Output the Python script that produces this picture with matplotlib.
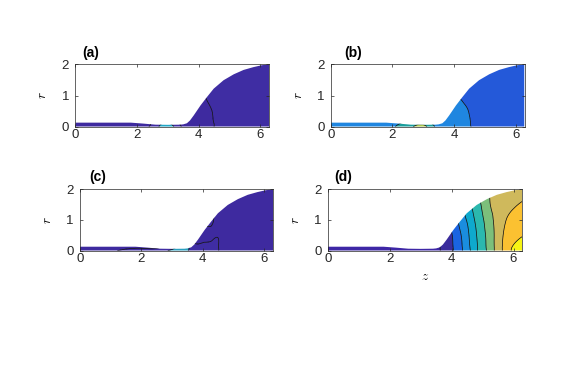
import numpy as np
import matplotlib
matplotlib.use('Agg')
import matplotlib.pyplot as plt
import matplotlib.tri as mtri
from matplotlib.patches import Polygon

plt.rcParams['font.family'] = ['Liberation Sans', 'DejaVu Sans']
plt.rcParams['mathtext.fontset'] = 'cm'

# grid of the field samples (z along the axis, r radial)
Z_NODES = [0, 1.0, 1.5, 2.0, 2.5, 3.0, 3.5, 3.75, 4.0, 4.25, 4.5, 4.75, 5.0, 5.25, 5.5, 5.75, 6.0, 6.2832]
R_NODES = [0, 0.1, 0.5, 1.0, 1.5, 2.0]

# outer wall r = R(z)
PROF_Z = [0, 1.8, 2.2, 2.6, 3.0, 3.4, 3.5, 3.62, 3.72, 3.84, 4.06, 4.27, 4.49, 4.81, 5.14, 5.46, 5.78, 6.05, 6.2832]
PROF_R = [0.13, 0.13, 0.10, 0.065, 0.06, 0.065, 0.075, 0.11, 0.2, 0.36, 0.68, 0.95, 1.22, 1.49, 1.68, 1.82, 1.91, 1.97, 2.0]

# one row per R_NODES entry
FIELD_A = [
    [0, 0, 0, 0, 0.8, 2.0, 0.3, 0, 0.1, 0.3, 0.5, 0.7, 0.85, 1, 1, 1, 1, 1],
    [0, 0, 0, 0, 0.6, 1.6, 0.2, 0, 0.1, 0.3, 0.5, 0.7, 0.85, 1, 1, 1, 1, 1],
    [0, 0, 0, 0, 0, 0, 0, 0.05, 0.15, 0.35, 0.55, 0.75, 0.9, 1, 1, 1, 1, 1],
    [0, 0, 0, 0, 0, 0, 0, 0.1, 0.3, 0.55, 0.75, 0.9, 1, 1, 1, 1, 1, 1],
    [0, 0, 0, 0, 0, 0, 0.1, 0.3, 0.5, 0.7, 0.85, 1, 1, 1, 1, 1, 1, 1],
    [0, 0, 0, 0, 0, 0, 0.2, 0.4, 0.6, 0.8, 0.9, 1, 1, 1, 1, 1, 1, 1],
]
FIELD_B = [
    [1.5, 1.5, 1.5, 1.9, 2.6, 3.3, 1.6, 1.5, 1.5, 1.3, 1.05, 0.8, 0.6, 0.5, 0.5, 0.5, 0.5, 0.5],
    [1.5, 1.5, 1.5, 1.8, 2.3, 2.8, 1.5, 1.5, 1.5, 1.3, 1.03, 0.8, 0.6, 0.5, 0.5, 0.5, 0.5, 0.5],
    [1.5, 1.5, 1.5, 1.5, 1.5, 1.5, 1.5, 1.5, 1.5, 1.3, 0.95, 0.7, 0.55, 0.5, 0.5, 0.5, 0.5, 0.5],
    [1.5, 1.5, 1.5, 1.5, 1.5, 1.5, 1.5, 1.4, 1.15, 0.85, 0.6, 0.5, 0.5, 0.5, 0.5, 0.5, 0.5, 0.5],
    [1.5, 1.5, 1.5, 1.5, 1.5, 1.5, 1.5, 1.2, 0.9, 0.6, 0.5, 0.5, 0.5, 0.5, 0.5, 0.5, 0.5, 0.5],
    [1.5, 1.5, 1.5, 1.5, 1.5, 1.5, 1.4, 1.0, 0.7, 0.5, 0.5, 0.5, 0.5, 0.5, 0.5, 0.5, 0.5, 0.5],
]
FIELD_C = [
    [0, 0.3, 0.8, 1.0, 1.0, 1.8, 1.6, 0.7, 1.0, 1.0, 0.55, 0, 0, 0, 0, 0, 0, 0],
    [0, 0, 0.3, 0.4, 0.4, 1.2, 1.6, 0.8, 0.9, 0.9, 0.55, 0, 0, 0, 0, 0, 0, 0],
    [0, 0, 0, 0, 0, 0, 0, -0.2, 0.1, 0.25, 0.4, -0.2, 0, 0, 0, 0, 0, 0],
    [0, 0, 0, 0, 0, 0, 0, 0, 0, 0.7, 0, 0, 0, 0, 0, 0, 0, 0],
    [0, 0, 0, 0, 0, 0, 0, 0, 0, 0, 0, 0, 0, 0, 0, 0, 0, 0],
    [0, 0, 0, 0, 0, 0, 0, 0, 0, 0, 0, 0, 0, 0, 0, 0, 0, 0],
]
FIELD_D = [
    [0.3, 0.3, 0.3, 0.3, 0.3, 0.3, 0.7, 1.25, 1.82, 2.63, 3.56, 4.62, 5.59, 6.46, 7.5, 8.41, 9.2, 9.7],
    [0.3, 0.3, 0.3, 0.3, 0.3, 0.3, 0.7, 1.26, 1.84, 2.66, 3.6, 4.65, 5.61, 6.48, 7.5, 8.38, 9.15, 9.55],
    [0.3, 0.3, 0.3, 0.3, 0.3, 0.4, 0.7, 1.32, 1.93, 2.79, 3.73, 4.78, 5.67, 6.54, 7.46, 8.22, 8.65, 8.95],
    [0.3, 0.3, 0.3, 0.4, 0.5, 0.6, 1.0, 1.5, 2.2, 3.2, 4.08, 5.03, 5.87, 6.72, 7.4, 7.98, 8.3, 8.5],
    [0.3, 0.3, 0.4, 0.5, 0.6, 0.8, 1.2, 2.0, 2.8, 3.5, 4.5, 5.4, 6.17, 7.0, 7.3, 7.6, 7.9, 8.07],
    [0.3, 0.4, 0.5, 0.6, 0.8, 1.0, 1.5, 2.3, 3.0, 3.8, 4.8, 5.7, 6.5, 7.1, 7.3, 7.5, 7.65, 7.75],
]

LEVELS_A = [-10, 0.5, 1.5, 10]
COLORS_A = ['#3e2a9f', '#3f2da3', '#22a6c6']
LEVELS_B = [-10, 1, 2, 3, 10]
COLORS_B = ['#2459d9', '#1f86e0', '#1a9e9c', '#a8c54a']
LEVELS_C = [-10, 0.5, 1.5, 10]
COLORS_C = ['#3e2a9f', '#3f2da3', '#2a9fc0']
LEVELS_D = [-10, 1, 2, 3, 4, 5, 6, 7, 8, 9, 20]
COLORS_D = ['#3e27a6', '#3a2c9c', '#1a64e2', '#1a8ddf', '#0ea9cd', '#2bb8ae',
            '#7cbf7b', '#cfb95c', '#fbc131', '#f7f414']

W, H = 581, 390
# label, field, levels, colours, axes box in pixels (left, top, right, bottom), tag position
panels = [
    ('(a)', FIELD_A, LEVELS_A, COLORS_A, (75.3, 64.3, 269.0, 126.7), (82, 53), False),
    ('(b)', FIELD_B, LEVELS_B, COLORS_B, (330.7, 64.3, 524.5, 126.7), (344, 53), False),
    ('(c)', FIELD_C, LEVELS_C, COLORS_C, (80.0, 189.3, 273.0, 250.7), (89, 177), False),
    ('(d)', FIELD_D, LEVELS_D, COLORS_D, (327.7, 189.3, 522.3, 250.7), (334, 177), True),
]

nz, nr = len(Z_NODES), len(R_NODES)
zz, rr = np.meshgrid(Z_NODES, R_NODES)
tris = []
for j in range(nr - 1):
    for i in range(nz - 1):
        p = j * nz + i
        tris.append([p, p + 1, p + nz + 1])
        tris.append([p, p + nz + 1, p + nz])
tri = mtri.Triangulation(zz.ravel(), rr.ravel(), tris)
refiner = mtri.UniformTriRefiner(tri)

outline = [(0, 0)] + list(zip(PROF_Z, PROF_R)) + [(PROF_Z[-1], 0)]

fig = plt.figure(figsize=(W / 100, H / 100), dpi=100)

for tag, field, levels, colors, box, tagpos, show_z in panels:
    x0, y0, x1, y1 = box
    ax = fig.add_axes([x0 / W, 1 - y1 / H, (x1 - x0) / W, (y1 - y0) / H])

    tri_f, v_f = refiner.refine_field(np.ravel(field), subdiv=3)
    cf = ax.tricontourf(tri_f, v_f, levels=levels, colors=colors, antialiased=True)
    cl = ax.tricontour(tri_f, v_f, levels=levels[1:-1], colors='k', linewidths=0.5)

    wall = Polygon(outline, closed=True, transform=ax.transData,
                   facecolor='none', edgecolor='none')
    ax.add_patch(wall)
    cf.set_clip_path(wall)
    cl.set_clip_path(wall)

    ax.set_xlim(0, 2 * np.pi)
    ax.set_ylim(0, 2)
    ax.set_xticks([0, 2, 4, 6])
    ax.set_yticks([0, 1, 2])
    ax.tick_params(direction='in', length=2, width=0.5, labelsize=9.5,
                   top=True, right=True, colors='0.15')
    ax.tick_params(axis='x', pad=1.5)
    ax.tick_params(axis='y', pad=4.5)
    for sp in ax.spines.values():
        sp.set_linewidth(0.5)
        sp.set_color('0.15')

    ax.set_ylabel('$r$', fontsize=9.5, rotation=90)
    ax.yaxis.set_label_coords(-26 / (x1 - x0), 0.5)
    if show_z:
        ax.set_xlabel('$z$', fontsize=9.5, labelpad=4.5)

    fig.text(tagpos[0] / W, 1 - tagpos[1] / H, tag, fontsize=10, fontweight='bold',
             ha='left', va='center')

fig.savefig('out.png', dpi=100)
